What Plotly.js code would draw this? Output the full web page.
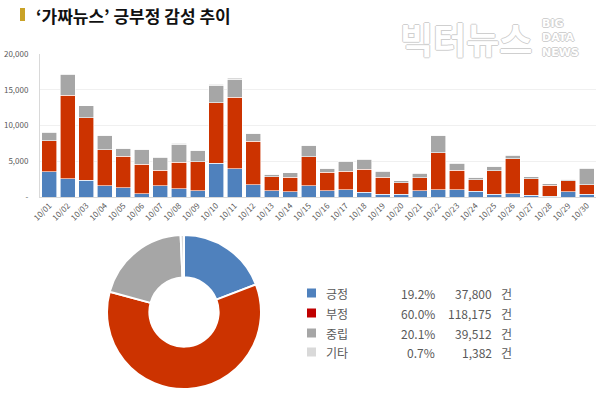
<!DOCTYPE html>
<html>
<head>
<meta charset="utf-8">
<script src="https://cdn.plot.ly/plotly-3.0.1.min.js"></script>
<style>
html,body{margin:0;padding:0;background:#fff;}
#chart{width:600px;height:394px;}
</style>
</head>
<body>
<div id="chart"></div>
<script>
// ---- data ----
var dates = ["10/01","10/02","10/03","10/04","10/05","10/06","10/07","10/08","10/09","10/10",
             "10/11","10/12","10/13","10/14","10/15","10/16","10/17","10/18","10/19","10/20",
             "10/21","10/22","10/23","10/24","10/25","10/26","10/27","10/28","10/29","10/30"];
var positive = [3550,2530,2340,1590,1310,470,1590,1120,890,4730,
                3980,1690,890,750,1590,840,980,700,420,420,
                890,980,980,800,370,470,280,140,750,420];
var negative = [4310,11700,8750,5010,4400,4120,2150,3750,4070,8430,
                9970,6080,1970,2010,4030,2620,2620,3190,2340,1590,
                1780,5240,2760,1590,3320,4870,2250,1500,1540,1270];
var neutral  = [1200,2900,1650,2020,1050,2030,1850,2540,1550,2500,
                2500,1080,310,640,1550,540,1420,1410,860,260,
                680,2330,1010,350,590,520,310,210,170,2340];
var other    = [40,120,50,40,30,30,30,80,40,80,
                230,50,20,20,40,30,40,40,30,20,
                20,60,30,20,30,40,20,20,20,40];
var seriesNames = ["긍정","부정","중립","기타"];
var totals = [37800,118175,39512,1382];
var yTickVals = [0,5000,10000,15000,20000];
var yTickText = ["-","5,000","10,000","15,000","20,000"];
var titleText = "‘가짜뉴스’ 긍부정 감성 추이";

// ---- style ----
var W = 600, H = 394;
function px(x){return x/W;}
function py(y){return 1 - y/H;}
var barColors = ["#4F81BD","#CC3300","#A6A6A6","#D9D9D9"];
var legendColors = ["#4F81BD","#C00000","#A6A6A6","#D9D9D9"];
var FONT = "Noto Sans CJK KR, Noto Sans, sans-serif";

var seriesData = [positive, negative, neutral, other];
var traces = seriesData.map(function(vals, i){
  return {
    type: "bar", x: dates, y: vals, name: seriesNames[i],
    marker: {color: barColors[i], line: {color: "#ffffff", width: 0.6}},
    hoverinfo: "none", showlegend: false
  };
});
traces.push({
  type: "pie", values: totals, labels: seriesNames,
  marker: {colors: barColors, line: {color: "#ffffff", width: 2}},
  hole: 0.45, sort: false, direction: "clockwise", rotation: 0,
  textinfo: "none", hoverinfo: "none", showlegend: false,
  domain: {x: [px(104), px(264)], y: [py(389), py(235)]}
});

var grand = totals.reduce(function(a,b){return a+b;},0);
var annotations = [
  {text: titleText, xref:"paper", yref:"paper", x: px(34), y: py(15), xanchor:"left", yanchor:"middle",
   showarrow:false, font:{family:FONT, size:17, color:"#111111", weight:700}},
  {text: "빅터뉴스", xref:"paper", yref:"paper", x: px(534), y: py(38), xanchor:"right", yanchor:"middle",
   showarrow:false, font:{family:FONT, size:36, color:"#ffffff", weight:700,
   shadow:"1px 0 #cfcfcf, -1px 0 #cfcfcf, 0 1px #cfcfcf, 0 -1px #cfcfcf"}},
  {text: "BIG<br>DATA<br>NEWS", xref:"paper", yref:"paper", x: px(540), y: py(38), xanchor:"left", yanchor:"middle",
   align:"left", showarrow:false, font:{family:"DejaVu Sans, sans-serif", size:11, color:"#ffffff", weight:700,
   shadow:"1px 0 #cfcfcf, -1px 0 #cfcfcf, 0 1px #cfcfcf, 0 -1px #cfcfcf"}}
];
var shapes = [
  {type:"rect", xref:"paper", yref:"paper", x0:px(20), x1:px(25), y0:py(21), y1:py(8),
   fillcolor:"#C9A227", line:{width:0}}
];
var rowY = [293, 313, 333, 352];
seriesNames.forEach(function(n, i){
  var y = rowY[i];
  shapes.push({type:"rect", xref:"paper", yref:"paper", x0:px(307), x1:px(316), y0:py(y+4.5), y1:py(y-4.5),
    fillcolor: legendColors[i], line:{width:0}});
  var lf = {family:FONT, size:12, color:"#595959"};
  annotations.push({text:n, xref:"paper", yref:"paper", x:px(324), y:py(y), xanchor:"left", yanchor:"middle", showarrow:false, font:lf});
  annotations.push({text:(totals[i]/grand*100).toFixed(1)+"%", xref:"paper", yref:"paper", x:px(437), y:py(y), xanchor:"right", yanchor:"middle", showarrow:false, font:lf});
  annotations.push({text:totals[i].toLocaleString("en-US"), xref:"paper", yref:"paper", x:px(494), y:py(y), xanchor:"right", yanchor:"middle", showarrow:false, font:lf});
  annotations.push({text:"건", xref:"paper", yref:"paper", x:px(499), y:py(y), xanchor:"left", yanchor:"middle", showarrow:false, font:lf});
});

var layout = {
  width: W, height: H,
  margin: {l:0, r:0, t:0, b:0, pad:0},
  paper_bgcolor: "#ffffff", plot_bgcolor: "#ffffff",
  barmode: "stack", bargap: 0.19,
  font: {family: FONT, color: "#595959", size: 8},
  xaxis: {
    domain: [px(40), px(596)], anchor: "y",
    type: "category", tickangle: -45, tickfont: {size: 8, color:"#595959"},
    showgrid: false, showline: true, linecolor: "#d9d9d9", linewidth: 1,
    ticks: "", fixedrange: true
  },
  yaxis: {
    domain: [py(197), py(54)], anchor: "x",
    range: [0, 20000], tickvals: yTickVals, ticktext: yTickText,
    tickfont: {size: 8, color:"#595959"},
    showgrid: true, gridcolor: "#f0f0f0", gridwidth: 1,
    showline: true, linecolor: "#d9d9d9", zeroline: false,
    ticks: "outside", ticklen: 9, tickcolor: "rgba(0,0,0,0)", fixedrange: true
  },
  annotations: annotations,
  shapes: shapes,
  showlegend: false
};

Plotly.newPlot("chart", traces, layout, {displayModeBar: false, staticPlot: true});
</script>
</body>
</html>
